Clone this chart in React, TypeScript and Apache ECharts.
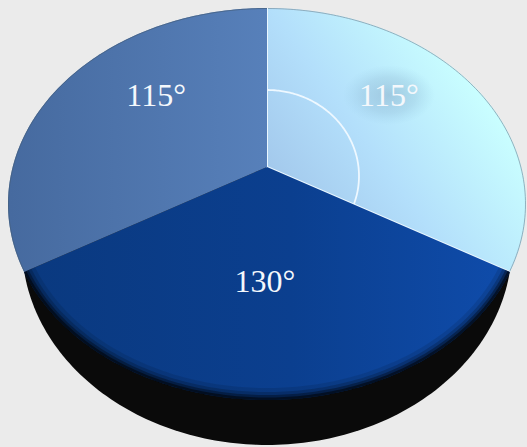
import React, { useEffect, useRef } from "react";
import * as echarts from "echarts";

const sliceAngles = [115, 130, 115];
const sliceUnits = ["°", "°", "°"];
const markedAngleIndex = 0;

const FONT = "'Liberation Serif', serif";
const APEX = { x: 267, y: 167 };
const TOP = { cx: 267, cy: 204, rx: 259, ry: 196 };
const BASE = { cx: 267, cy: 245, rx: 245, ry: 200 };
const MARK = { cx: 267, cy: 176, rx: 92, ry: 86 };
const TILT = 1.079;
const LABEL_FRACTION = [0.684, 0.489, 0.65];
const LABEL_NUDGE = [
  [0, 0],
  [-2, 0],
  [5, -4],
];

type Ell = { cx: number; cy: number; rx: number; ry: number };

function hit(deg: number, e: Ell): number[] {
  const r = (deg * Math.PI) / 180;
  const dx = TILT * Math.sin(r);
  const dy = -Math.cos(r);
  const ox = APEX.x - e.cx;
  const oy = APEX.y - e.cy;
  const a = (dx * dx) / (e.rx * e.rx) + (dy * dy) / (e.ry * e.ry);
  const b = (2 * ox * dx) / (e.rx * e.rx) + (2 * oy * dy) / (e.ry * e.ry);
  const c = (ox * ox) / (e.rx * e.rx) + (oy * oy) / (e.ry * e.ry) - 1;
  const t = (-b + Math.sqrt(b * b - 4 * a * c)) / (2 * a);
  return [APEX.x + t * dx, APEX.y + t * dy];
}

function rim(start: number, end: number, e: Ell): number[][] {
  const pts: number[][] = [];
  const n = Math.max(2, Math.ceil(Math.abs(end - start)));
  for (let i = 0; i <= n; i++) pts.push(hit(start + ((end - start) * i) / n, e));
  return pts;
}

function inset(e: Ell, d: number): Ell {
  return { cx: e.cx, cy: e.cy, rx: e.rx - d, ry: e.ry - d };
}

function grad(x: number, y: number, x2: number, y2: number, stops: [number, string][]) {
  return {
    type: "linear",
    global: true,
    x,
    y,
    x2,
    y2,
    colorStops: stops.map(([offset, color]) => ({ offset, color })),
  };
}

const FILLS = [
  grad(285, 235, 480, 95, [
    [0, "#9fc3e8"],
    [0.5, "#b3dffb"],
    [1, "#c9feff"],
  ]),
  grad(25, 300, 510, 300, [
    [0, "#0a397f"],
    [0.55, "#0b3f8f"],
    [1, "#0f4cab"],
  ]),
  grad(10, 150, 267, 150, [
    [0, "#466a9f"],
    [1, "#5780ba"],
  ]),
];

function renderBase() {
  return {
    type: "polygon",
    shape: { points: rim(0, 360, BASE) },
    style: { fill: "#0a0a0a" },
  };
}

function renderSlice(params: any, api: any) {
  const i = params.dataIndex;
  const value = api.value(0);
  const start = sliceAngles.slice(0, i).reduce((s, v) => s + v, 0);
  const end = start + value;
  const arc = rim(start, end, TOP);
  const children: any[] = [
    {
      type: "polygon",
      shape: { points: [[APEX.x, APEX.y], ...arc] },
      style: { fill: FILLS[i] },
    },
  ];
  if (i === 1) {
    [
      [12, 0.1],
      [8, 0.18],
      [5, 0.32],
      [2.5, 0.5],
    ].forEach(([lineWidth, opacity]) =>
      children.push({
        type: "polyline",
        shape: { points: rim(start, end, inset(TOP, (lineWidth as number) / 2)) },
        style: { fill: "none", stroke: "#000", lineWidth, opacity },
      })
    );
  } else {
    children.push({
      type: "polyline",
      shape: { points: rim(start, end, inset(TOP, 0.5)) },
      style: { fill: "none", stroke: i === 0 ? "#7f98a8" : "#46607f", lineWidth: 1, opacity: 0.75 },
    });
  }
  if (i === markedAngleIndex) {
    children.push({
      type: "polyline",
      shape: { points: rim(start, end, MARK) },
      style: { fill: "none", stroke: "#eef8ff", lineWidth: 1.8 },
    });
    children.push({
      type: "polyline",
      shape: { points: [arc[0], [APEX.x, APEX.y], arc[arc.length - 1]] },
      style: { fill: "none", stroke: "#eaf7ff", lineWidth: 2 },
    });
  }
  const mid = hit((start + end) / 2, TOP);
  const f = LABEL_FRACTION[i];
  const lx = APEX.x + (mid[0] - APEX.x) * f + LABEL_NUDGE[i][0];
  const ly = APEX.y + (mid[1] - APEX.y) * f + LABEL_NUDGE[i][1];
  if (i === markedAngleIndex) {
    children.push({
      type: "ellipse",
      shape: { cx: lx, cy: ly, rx: 46, ry: 30 },
      style: {
        fill: {
          type: "radial",
          x: 0.5,
          y: 0.5,
          r: 0.5,
          colorStops: [
            { offset: 0, color: "rgba(125,160,190,0.45)" },
            { offset: 0.6, color: "rgba(130,170,200,0.25)" },
            { offset: 1, color: "rgba(140,190,220,0)" },
          ],
        },
      },
    });
  }
  children.push({
    type: "text",
    style: {
      x: lx,
      y: ly,
      text: `${value}${sliceUnits[i]}`,
      fill: "#f4f8fc",
      fontFamily: FONT,
      fontSize: 32,
      align: "center",
      verticalAlign: "middle",
    },
  });
  return { type: "group", children };
}

export default function App() {
  const ref = useRef<HTMLDivElement>(null);
  useEffect(() => {
    document.body.style.margin = "0";
    const chart = echarts.init(ref.current!, null, { renderer: "svg" });
    chart.setOption({
      animation: false,
      backgroundColor: "#ebebeb",
      series: [
        {
          type: "custom",
          coordinateSystem: "none",
          silent: true,
          data: [[0]],
          renderItem: renderBase,
          z: 1,
        },
        {
          type: "custom",
          coordinateSystem: "none",
          silent: true,
          data: sliceAngles.map((v) => [v]),
          renderItem: renderSlice,
          z: 2,
        },
      ],
    });
    return () => chart.dispose();
  }, []);
  return <div ref={ref} style={{ width: 527, height: 447 }} />;
}
